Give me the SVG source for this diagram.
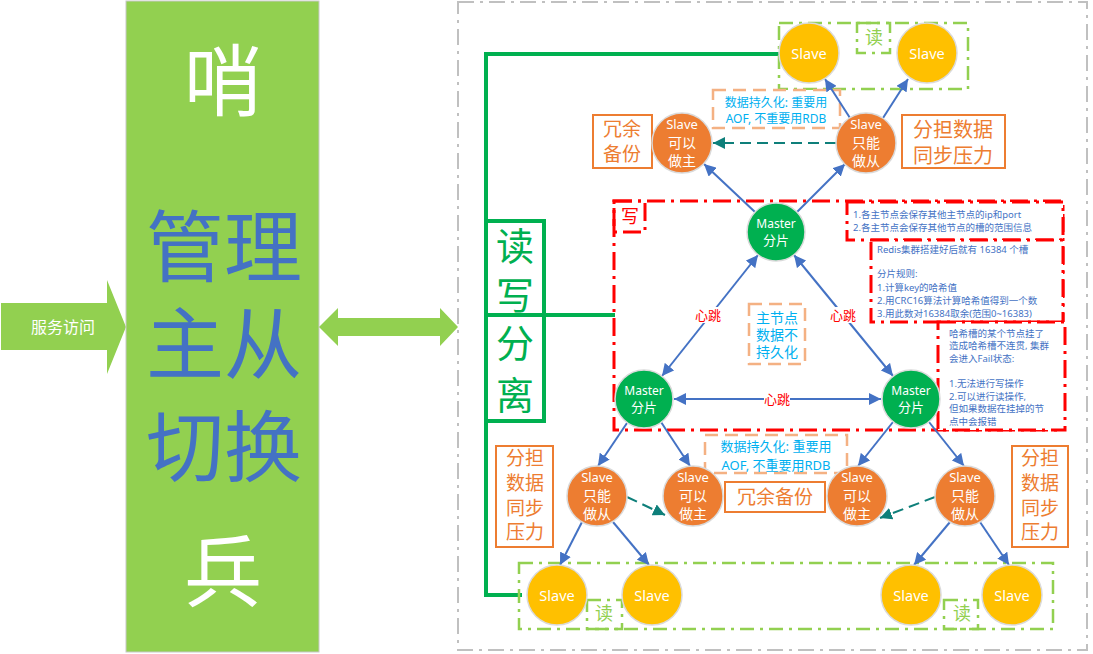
<svg xmlns="http://www.w3.org/2000/svg" width="1093" height="654" viewBox="0 0 1093 654">
<defs>
<style>
text{font-family:"Noto Sans","Noto Sans CJK SC",sans-serif;text-anchor:middle;dominant-baseline:central}
.tl{text-anchor:start}
.blue{stroke:#4472c4;stroke-width:2;fill:none}
.teal{stroke:#0e7f7a;stroke-width:2;fill:none;stroke-dasharray:11 6}
.gline{stroke:#00b050;stroke-width:4;fill:none}
.reddd{stroke:#ff0000;stroke-width:3;fill:none;stroke-dasharray:18 6 3 6}
.redbox{stroke:#ff0000;stroke-width:3;fill:#fff;stroke-dasharray:18 6 3 6}
.grndd{stroke:#92d050;stroke-width:2.5;fill:none;stroke-dasharray:14 6 3 6}
.peach{stroke:#f4b183;stroke-width:2.5;fill:#fff;stroke-dasharray:13 7}
.obox{stroke:#ed7d31;stroke-width:2;fill:#fff}
.slave{fill:#ffc000;stroke:#dadada;stroke-width:1.5}
.orange{fill:#ed7d31;stroke:#dadada;stroke-width:1.5}
.master{fill:#00b050;stroke:#dadada;stroke-width:1.5}
.wt{fill:#fff}
.ot{fill:#ed7d31;font-size:19px}
.ct{fill:#00b0f0}
.rt{fill:#ff0000;font-size:13px}
.nt{fill:#4472c4;font-size:9.5px}
</style>
<marker id="ab" viewBox="0 0 10 10" refX="10" refY="5" markerWidth="6" markerHeight="6" orient="auto-start-reverse"><path d="M0,0 L10,5 L0,10 z" fill="#4472c4"/></marker>
<marker id="at" viewBox="0 0 10 10" refX="10" refY="5" markerWidth="6" markerHeight="6" orient="auto-start-reverse"><path d="M0,0 L10,5 L0,10 z" fill="#0e7f7a"/></marker>
</defs>
<rect width="1093" height="654" fill="#fff"/>

<!-- outer gray dashed region -->
<rect x="458" y="2" width="629" height="648" fill="none" stroke="#c0c0c0" stroke-width="2" stroke-dasharray="16 6 3 6"/>

<!-- service access arrow -->
<g id="access">
<polygon points="1,303 107,303 107,280 126,327 107,374 107,350 1,350" fill="#92d050"/>
<text x="63" y="327" class="wt" style="font-size:16px">服务访问</text>
</g>

<!-- sentinel -->
<g id="sentinel">
<rect x="126" y="1" width="193" height="651" fill="#92d050" stroke="#c8c8c8" stroke-width="1"/>
<text x="223" y="80" class="wt" style="font-size:78px">哨</text>
<text x="224" y="246" style="font-size:78px;fill:#4472c4">管理</text>
<text x="224" y="343" style="font-size:78px;fill:#4472c4">主从</text>
<text x="224" y="446" style="font-size:78px;fill:#4472c4">切换</text>
<text x="223" y="571" class="wt" style="font-size:78px">兵</text>
</g>

<g id="double-arrow">
<polygon points="319,327 338,308 338,318 440,318 440,308 458,327 440,346 440,336 338,336 338,346" fill="#92d050"/>
</g>

<!-- read/write split bracket -->
<g id="rw-split">
<path class="gline" d="M780,54 H486 V595 H522"/>
<rect x="486" y="221" width="58" height="200" class="gline"/>
<line x1="486" y1="315" x2="615" y2="315" class="gline"/>
<text x="515" y="245" style="font-size:38px;fill:#00b050">读</text>
<text x="515" y="294" style="font-size:38px;fill:#00b050">写</text>
<text x="515" y="342" style="font-size:38px;fill:#00b050">分</text>
<text x="515" y="394" style="font-size:38px;fill:#00b050">离</text>
</g>

<!-- write region -->
<g id="write-region">
<rect x="614" y="201" width="449" height="229" class="reddd"/>
<rect x="614" y="201" width="31" height="31" class="reddd"/>
<text x="630" y="216" style="font-size:18px;fill:#ff0000">写</text>
</g>

<g id="note1">
<rect x="847" y="202" width="216" height="38" class="redbox"/>
<text x="853" y="214" class="tl nt">1.各主节点会保存其他主节点的ip和port</text>
<text x="853" y="227" class="tl nt">2.各主节点会保存其他节点的槽的范围信息</text>
</g>
<g id="note2">
<rect x="871" y="240" width="192" height="82" class="redbox"/>
<text x="877" y="249" class="tl nt">Redis集群搭建好后就有 16384 个槽</text>
<text x="877" y="273" class="tl nt">分片规则:</text>
<text x="877" y="287" class="tl nt">1.计算key的哈希值</text>
<text x="877" y="300" class="tl nt">2.用CRC16算法计算哈希值得到一个数</text>
<text x="877" y="313" class="tl nt">3.用此数对16384取余(范围0~16383)</text>
</g>
<g id="note3">
<rect x="938" y="322" width="127" height="108" class="redbox"/>
<text x="949" y="333" class="tl nt">哈希槽的某个节点挂了</text>
<text x="949" y="345" class="tl nt">造成哈希槽不连贯, 集群</text>
<text x="949" y="358" class="tl nt">会进入Fail状态:</text>
<text x="949" y="383" class="tl nt">1.无法进行写操作</text>
<text x="949" y="396" class="tl nt">2.可以进行读操作,</text>
<text x="949" y="408" class="tl nt">但如果数据在挂掉的节</text>
<text x="949" y="421" class="tl nt">点中会报错</text>
</g>

<!-- read regions -->
<g id="read-top">
<rect x="779" y="23" width="189" height="66" class="grndd"/>
<rect x="857" y="23" width="33" height="30" class="grndd"/>
<text x="874" y="37" style="font-size:18px;fill:#92d050">读</text>
</g>
<g id="read-bottom">
<rect x="519" y="563" width="534" height="66" class="grndd"/>
<rect x="587" y="600" width="35" height="29" class="grndd"/>
<text x="604" y="613" style="font-size:18px;fill:#92d050">读</text>
<rect x="944" y="600" width="34" height="29" class="grndd"/>
<text x="962" y="613" style="font-size:18px;fill:#92d050">读</text>
</g>

<!-- annotation boxes -->
<g id="persist-top">
<rect x="713" y="90" width="127" height="38" class="peach"/>
<text x="776" y="102" class="ct" style="font-size:12px">数据持久化: 重要用</text>
<text x="776" y="118" class="ct" style="font-size:12px">AOF, 不重要用RDB</text>
</g>
<g id="persist-bottom">
<rect x="705" y="435" width="142" height="38" class="peach"/>
<text x="776" y="446" class="ct" style="font-size:13px">数据持久化: 重要用</text>
<text x="776" y="465" class="ct" style="font-size:13px">AOF, 不重要用RDB</text>
</g>
<g id="master-nopersist">
<rect x="749" y="304" width="56" height="60" class="peach"/>
<text x="777" y="317" class="ct" style="font-size:14px">主节点</text>
<text x="777" y="334" class="ct" style="font-size:14px">数据不</text>
<text x="777" y="351" class="ct" style="font-size:14px">持久化</text>
</g>
<g id="backup-top">
<rect x="593" y="115" width="59" height="53" class="obox"/>
<text x="622" y="129" class="ot">冗余</text>
<text x="622" y="154" class="ot">备份</text>
</g>
<g id="share-top">
<rect x="902" y="115" width="103" height="53" class="obox"/>
<text x="953" y="129" class="ot" style="font-size:20px">分担数据</text>
<text x="953" y="155" class="ot" style="font-size:20px">同步压力</text>
</g>
<g id="backup-bottom">
<rect x="725" y="482" width="100" height="30" class="obox"/>
<text x="775" y="497" class="ot">冗余备份</text>
</g>
<g id="share-left">
<rect x="496" y="446" width="57" height="101" class="obox"/>
<text x="525" y="458" class="ot">分担</text>
<text x="525" y="483" class="ot">数据</text>
<text x="525" y="508" class="ot">同步</text>
<text x="525" y="532" class="ot">压力</text>
</g>
<g id="share-right">
<rect x="1012" y="446" width="56" height="101" class="obox"/>
<text x="1040" y="458" class="ot">分担</text>
<text x="1040" y="483" class="ot">数据</text>
<text x="1040" y="508" class="ot">同步</text>
<text x="1040" y="532" class="ot">压力</text>
</g>

<!-- connectors -->
<g id="connectors">
<line x1="755" y1="212" x2="704" y2="164" class="blue" marker-end="url(#ab)"/>
<line x1="797" y1="212" x2="845" y2="164" class="blue" marker-end="url(#ab)"/>
<line x1="850" y1="118" x2="825" y2="79" class="blue" marker-end="url(#ab)"/>
<line x1="883" y1="118" x2="908" y2="79" class="blue" marker-end="url(#ab)"/>
<line x1="836" y1="143" x2="713" y2="143" class="teal" marker-end="url(#at)"/>
<line x1="662" y1="376" x2="758" y2="255" class="blue" marker-start="url(#ab)" marker-end="url(#ab)"/>
<line x1="893" y1="376" x2="794" y2="255" class="blue" marker-start="url(#ab)" marker-end="url(#ab)"/>
<line x1="674" y1="399" x2="881" y2="399" class="blue" marker-start="url(#ab)" marker-end="url(#ab)"/>
<line x1="627" y1="423" x2="598" y2="466" class="blue" marker-end="url(#ab)"/>
<line x1="661" y1="422" x2="690" y2="466" class="blue" marker-end="url(#ab)"/>
<line x1="893" y1="422" x2="858" y2="466" class="blue" marker-end="url(#ab)"/>
<line x1="929" y1="422" x2="964" y2="466" class="blue" marker-end="url(#ab)"/>
<line x1="582" y1="522" x2="560" y2="565" class="blue" marker-end="url(#ab)"/>
<line x1="613" y1="522" x2="649" y2="565" class="blue" marker-end="url(#ab)"/>
<line x1="950" y1="522" x2="914" y2="565" class="blue" marker-end="url(#ab)"/>
<line x1="980" y1="522" x2="1009" y2="565" class="blue" marker-end="url(#ab)"/>
<line x1="627" y1="497" x2="665" y2="515" class="teal" marker-end="url(#at)"/>
<line x1="935" y1="497" x2="880" y2="518" class="teal" marker-end="url(#at)"/>
<rect x="695" y="307" width="26" height="16" fill="#fff"/>
<text x="708" y="315" class="rt">心跳</text>
<rect x="830" y="307" width="26" height="16" fill="#fff"/>
<text x="843" y="315" class="rt">心跳</text>
<rect x="764" y="391" width="26" height="16" fill="#fff"/>
<text x="777" y="399" class="rt">心跳</text>
</g>

<!-- nodes -->
<g id="slave-t1"><circle cx="809" cy="53" r="30" class="slave"/><text x="809" y="53" class="wt" style="font-size:14.5px">Slave</text></g>
<g id="slave-t2"><circle cx="927" cy="53" r="30" class="slave"/><text x="927" y="53" class="wt" style="font-size:14.5px">Slave</text></g>
<g id="slave-b1"><circle cx="557" cy="595" r="30" class="slave"/><text x="557" y="595" class="wt" style="font-size:14.5px">Slave</text></g>
<g id="slave-b2"><circle cx="652" cy="595" r="30" class="slave"/><text x="652" y="595" class="wt" style="font-size:14.5px">Slave</text></g>
<g id="slave-b3"><circle cx="911" cy="595" r="30" class="slave"/><text x="911" y="595" class="wt" style="font-size:14.5px">Slave</text></g>
<g id="slave-b4"><circle cx="1012" cy="595" r="30" class="slave"/><text x="1012" y="595" class="wt" style="font-size:14.5px">Slave</text></g>

<g id="o-top-promote"><circle cx="682" cy="143" r="30" class="orange"/>
<text x="682" y="124" class="wt" style="font-size:13px">Slave</text><text x="682" y="142" class="wt" style="font-size:14px">可以</text><text x="682" y="160" class="wt" style="font-size:14px">做主</text></g>
<g id="o-top-follow"><circle cx="866" cy="143" r="30" class="orange"/>
<text x="866" y="124" class="wt" style="font-size:13px">Slave</text><text x="866" y="142" class="wt" style="font-size:14px">只能</text><text x="866" y="160" class="wt" style="font-size:14px">做从</text></g>
<g id="o-bl-follow"><circle cx="597" cy="496" r="30" class="orange"/>
<text x="597" y="477" class="wt" style="font-size:13px">Slave</text><text x="597" y="495" class="wt" style="font-size:14px">只能</text><text x="597" y="513" class="wt" style="font-size:14px">做从</text></g>
<g id="o-bl-promote"><circle cx="693" cy="496" r="30" class="orange"/>
<text x="693" y="477" class="wt" style="font-size:13px">Slave</text><text x="693" y="495" class="wt" style="font-size:14px">可以</text><text x="693" y="513" class="wt" style="font-size:14px">做主</text></g>
<g id="o-br-promote"><circle cx="857" cy="496" r="30" class="orange"/>
<text x="857" y="477" class="wt" style="font-size:13px">Slave</text><text x="857" y="495" class="wt" style="font-size:14px">可以</text><text x="857" y="513" class="wt" style="font-size:14px">做主</text></g>
<g id="o-br-follow"><circle cx="965" cy="496" r="30" class="orange"/>
<text x="965" y="477" class="wt" style="font-size:13px">Slave</text><text x="965" y="495" class="wt" style="font-size:14px">只能</text><text x="965" y="513" class="wt" style="font-size:14px">做从</text></g>

<g id="master-top"><circle cx="776" cy="232" r="29" class="master"/>
<text x="776" y="223" class="wt" style="font-size:12px">Master</text><text x="776" y="240" class="wt" style="font-size:13px">分片</text></g>
<g id="master-left"><circle cx="644" cy="399" r="29" class="master"/>
<text x="644" y="390" class="wt" style="font-size:12px">Master</text><text x="644" y="407" class="wt" style="font-size:13px">分片</text></g>
<g id="master-right"><circle cx="911" cy="399" r="29" class="master"/>
<text x="911" y="390" class="wt" style="font-size:12px">Master</text><text x="911" y="407" class="wt" style="font-size:13px">分片</text></g>
</svg>
